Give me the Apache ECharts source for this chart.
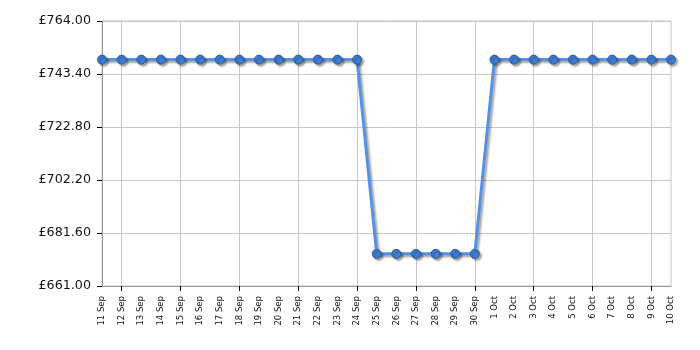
<!DOCTYPE html>
<html><head><meta charset="utf-8">
<script src="https://cdn.jsdelivr.net/npm/echarts@6/dist/echarts.min.js"></script>
<style>html,body{margin:0;padding:0;background:#fff}#c{width:700px;height:350px}</style>
</head><body><div id="c"></div>
<script>
const categories = ['11 Sep','12 Sep','13 Sep','14 Sep','15 Sep','16 Sep','17 Sep','18 Sep','19 Sep','20 Sep','21 Sep','22 Sep','23 Sep','24 Sep','25 Sep','26 Sep','27 Sep','28 Sep','29 Sep','30 Sep','1 Oct','2 Oct','3 Oct','4 Oct','5 Oct','6 Oct','7 Oct','8 Oct','9 Oct','10 Oct'];
const prices = [748.99,748.99,748.99,748.99,748.99,748.99,748.99,748.99,748.99,748.99,748.99,748.99,748.99,748.99,673.49,673.49,673.49,673.49,673.49,673.49,748.99,748.99,748.99,748.99,748.99,748.99,748.99,748.99,748.99,748.99];
const yMin = 661.00;
const yMax = 764.00;
const yStep = 20.6;

const chart = echarts.init(document.getElementById('c'), null, {renderer:'canvas'});
const everyThird = (i) => i % 3 === 1;
chart.setOption({
  animation:false,
  backgroundColor:'#fff',
  grid:{left:102, right:29, top:21, bottom:64, show:true, borderColor:'#c8c8c8', borderWidth:1},
  xAxis:{
    type:'category', data:categories, boundaryGap:false,
    axisLine:{lineStyle:{color:'#999', width:1}},
    axisTick:{show:true, interval:(i)=>everyThird(i), length:5, lineStyle:{color:'#000'}},
    axisLabel:{interval:0, rotate:90, fontFamily:'DejaVu Sans', fontSize:8.5, color:'#111', margin:10},
    splitLine:{show:true, interval:(i)=>everyThird(i), lineStyle:{color:'#c8c8c8', width:1}}
  },
  yAxis:{
    type:'value', min:0, max:yMax - yMin, interval:yStep,
    axisLine:{show:true, lineStyle:{color:'#999'}},
    axisTick:{show:true, length:5, lineStyle:{color:'#000'}},
    axisLabel:{fontFamily:'DejaVu Sans', fontSize:12.7, color:'#111', margin:11,
      formatter:(v)=>'£' + (v + yMin).toFixed(2)},
    splitLine:{lineStyle:{color:'#c8c8c8', width:1}}
  },
  series:[{
    type:'line', data:prices.map(p=>+(p - yMin).toFixed(2)),
    symbol:'circle', symbolSize:9,
    lineStyle:{color:'#5592e6', width:3, shadowColor:'rgba(0,0,0,0.35)', shadowBlur:2, shadowOffsetX:2, shadowOffsetY:2},
    itemStyle:{color:'#3f7dd2', borderColor:'#2c5c9c', borderWidth:1, shadowColor:'rgba(0,0,0,0.35)', shadowBlur:2, shadowOffsetX:2, shadowOffsetY:2}
  }]
});
</script></body></html>
